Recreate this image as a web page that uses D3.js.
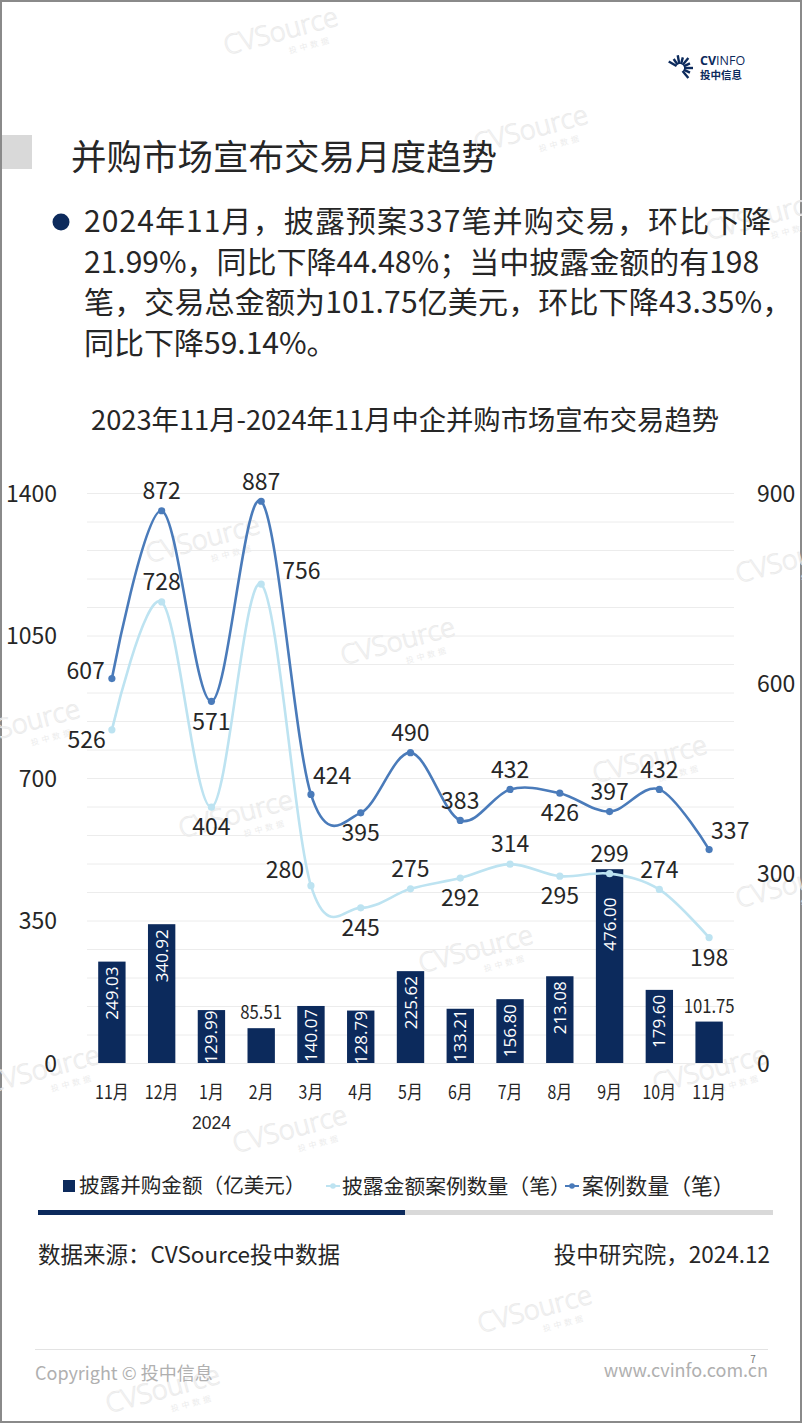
<!DOCTYPE html>
<html><head><meta charset="utf-8">
<script src="https://cdn.jsdelivr.net/npm/d3@7"></script>
<style>
html,body{margin:0;padding:0;background:#fff;}
svg{display:block;font-family:"Noto Sans CJK SC","Noto Sans",sans-serif;}
</style></head>
<body>
<svg id="c" width="802" height="1424"></svg>
<script>
// ---------- data ----------
const monthLabels = ["11月","12月","1月","2月","3月","4月","5月","6月","7月","8月","9月","10月","11月"];
const yearLabels  = ["","","2024","","","","","","","","","",""];
const amount    = [249.03,340.92,129.99,85.51,140.07,128.79,225.62,133.21,156.80,213.08,476.00,179.60,101.75];
const disclosed = [526,728,404,756,280,245,275,292,314,295,299,274,198];
const cases     = [607,872,571,887,424,395,490,383,432,426,397,432,337];
const leftTicks  = [0,350,700,1050,1400];
const rightTicks = [0,300,600,900];
const seriesNames = ["披露并购金额（亿美元）","披露金额案例数量（笔）","案例数量（笔）"];
// label placement keywords (t=top,b=bottom,l=left,lb=left-below,tr=top-right,tl=top-left,r=right)
const casesLabelPos     = ["l","t","b","t","tr","b","t","t","t","b","t","t","tr"];
const disclosedLabelPos = ["lb","t","b","r","tl","b","t","b","t","b","t","t","b"];

const svg = d3.select("#c");
const NAVY = "#0c2a5c", DARK = "#4a7bba", LIGHT = "#bde3f1", TXT = "#262626";

// ---------- page frame ----------
svg.append("rect").attr("x",1).attr("y",1).attr("width",800).attr("height",1421)
  .attr("fill","none").attr("stroke","#8a8a8a").attr("stroke-width",2);

// watermarks (very faint)
const wm = [[283,40],[533,138],[765,225],[205,548],[400,650],[25,732],[238,823],[652,768],[795,568],[478,958],[795,893],[45,1078],[712,1078],[292,1138],[537,1318],[165,1398]];
wm.forEach(([cx,cy])=>{
  const g = svg.append("g").attr("transform",`translate(${cx},${cy}) rotate(-15)`);
  g.append("text").attr("text-anchor","middle").attr("font-family","Open Sans, sans-serif").attr("font-weight",300)
    .attr("font-size",27).attr("fill","none").attr("stroke","#ebebeb").attr("stroke-width",0.9).text("CVSource");
  g.append("text").attr("x",25).attr("y",15).attr("text-anchor","middle").attr("font-size",8)
    .attr("fill","#ececec").attr("letter-spacing",3).text("投中数据");
});

// logo
const logo = svg.append("g").attr("transform","translate(680,64)");
d3.range(9).forEach(i=>{
  const a = (-150 + i*25) * Math.PI/180;
  const r1 = 4, r2 = (i%2? 11: 13);
  logo.append("line").attr("x1",r1*Math.cos(a)).attr("y1",r1*Math.sin(a)+4)
    .attr("x2",r2*Math.cos(a)).attr("y2",r2*Math.sin(a)+4).attr("stroke",NAVY).attr("stroke-width",2.4);
});
svg.append("text").attr("x",700).attr("y",65).attr("font-family","Open Sans, sans-serif")
  .attr("font-size",12.5).attr("fill",NAVY).attr("font-weight",700).text("CV")
  .append("tspan").attr("font-weight",400).text("INFO");
svg.append("text").attr("x",700).attr("y",79).attr("font-size",10.5).attr("fill",NAVY).attr("font-weight",700).text("投中信息");

// title block
svg.append("rect").attr("x",2).attr("y",135).attr("width",30).attr("height",34).attr("fill","#d9d9d9");
svg.append("text").attr("x",71).attr("y",170).attr("font-size",35.5).attr("fill",TXT).text("并购市场宣布交易月度趋势");

// bullet paragraph
svg.append("circle").attr("cx",61).attr("cy",222).attr("r",8.5).attr("fill",NAVY);
const para = ["2024年11月，披露预案337笔并购交易，环比下降",
              "21.99%，同比下降44.48%；当中披露金额的有198",
              "笔，交易总金额为101.75亿美元，环比下降43.35%，",
              "同比下降59.14%。"];
const spacing = [1.1, 0, 0.15, 0];
para.forEach((t,i)=>{
  svg.append("text").attr("x",84).attr("y",232+i*40.5).attr("font-size",30)
    .attr("letter-spacing",spacing[i]).attr("fill",TXT).text(t);
});

// chart title
svg.append("text").attr("x",405).attr("y",430).attr("text-anchor","middle").attr("font-size",27.3)
  .attr("fill",TXT).text("2023年11月-2024年11月中企并购市场宣布交易趋势");

// ---------- chart ----------
const X0 = 87, X1 = 734, Y0 = 1063, Y1 = 493;
const idx = d3.range(monthLabels.length);
const x = d3.scaleBand().domain(idx).range([X0,X1]).paddingInner(0.45).paddingOuter(0.225);
const yL = d3.scaleLinear().domain([0,1400]).range([Y0,Y1]);
const yR = d3.scaleLinear().domain([0,900]).range([Y0,Y1]);
const cx = i => x(i) + x.bandwidth()/2;

// gridlines
svg.append("g").attr("transform",`translate(${X0},0)`)
  .call(d3.axisLeft(yL).tickValues(d3.range(0,1401,70)).tickSize(-(X1-X0)).tickFormat(""))
  .call(g=>g.select(".domain").remove())
  .call(g=>g.selectAll("line").attr("stroke","#ececec").attr("stroke-width",1));

// left axis
svg.append("g").attr("transform",`translate(57,0)`)
  .call(d3.axisLeft(yL).tickValues(leftTicks).tickSize(0).tickPadding(0).tickFormat(d3.format("d")))
  .call(g=>g.select(".domain").remove())
  .call(g=>g.selectAll("text").attr("font-size",23).attr("fill",TXT).attr("font-family","Noto Sans CJK SC").attr("dy","0.35em"));
// right axis
svg.append("g").attr("transform",`translate(757,0)`)
  .call(d3.axisRight(yR).tickValues(rightTicks).tickSize(0).tickPadding(0).tickFormat(d3.format("d")))
  .call(g=>g.select(".domain").remove())
  .call(g=>g.selectAll("text").attr("font-size",23).attr("fill",TXT).attr("font-family","Noto Sans CJK SC").attr("dy","0.35em"));

// x axis
const xa = svg.append("g").attr("transform",`translate(0,${Y0})`)
  .call(d3.axisBottom(x).tickSize(0).tickPadding(0).tickFormat(i=>monthLabels[i]))
  .call(g=>g.select(".domain").remove());
xa.selectAll("text").attr("font-size",19).attr("fill",TXT).attr("font-family","Noto Sans CJK SC")
  .attr("y",0).attr("dy",0).attr("transform","translate(0,36) scale(0.84,1)");
xa.selectAll(".tick").append("text").attr("fill",TXT).attr("font-size",19).attr("text-anchor","middle")
  .attr("transform","translate(0,66) scale(0.92,1)").text(i=>yearLabels[i]);

// bars
svg.append("g").selectAll("rect").data(amount).join("rect")
  .attr("x",(d,i)=>x(i)).attr("width",x.bandwidth())
  .attr("y",d=>yL(d)).attr("height",d=>Y0-yL(d)).attr("fill",NAVY);

// bar labels
amount.forEach((d,i)=>{
  const top = yL(d), h = Y0-top;
  if (h < 48) {
    svg.append("g").attr("transform",`translate(${cx(i)},${top-9})`)
      .append("text").attr("text-anchor","middle").attr("font-size",19).attr("fill",TXT)
      .attr("transform","scale(0.88,1)").text(d.toFixed(2));
  } else {
    const t = svg.append("text").attr("text-anchor","end").attr("font-family","Open Sans, sans-serif")
      .attr("font-size",17).attr("fill","#fff").text(d.toFixed(2));
    const len = t.node().getComputedTextLength();
    let start = top + 5;
    const lp = yR(disclosed[i]);
    if (lp > top) start = Math.max(start, lp + 24);
    if (start + len > Y0 - 1) start = Math.max(top + 0.5, Y0 - 1 - len);
    t.attr("transform",`translate(${cx(i)+6},${start}) rotate(-90)`);
  }
});

// lines
const curve = d3.curveCardinal.tension(0);
function drawSeries(vals,color){
  const line = d3.line().x((d,i)=>cx(i)).y(d=>yR(d)).curve(curve);
  svg.append("path").datum(vals).attr("d",line).attr("fill","none").attr("stroke",color).attr("stroke-width",2.6);
  svg.append("g").selectAll("circle").data(vals).join("circle")
    .attr("cx",(d,i)=>cx(i)).attr("cy",d=>yR(d)).attr("r",3.6).attr("fill",color);
}
drawSeries(disclosed,LIGHT);
drawSeries(cases,DARK);

const offs = {t:[0,-20,"middle"], b:[0,20,"middle"], l:[-7,-8,"end"], lb:[-6,10,"end"],
              tr:[2,-19,"start"], tl:[-7,-16,"end"], r:[21,-13,"start"]};
function drawLabels(vals,pos){
  vals.forEach((d,i)=>{
    const o = offs[pos[i]];
    svg.append("text").attr("x",cx(i)+o[0]).attr("y",yR(d)+o[1]).attr("dy","0.36em")
      .attr("text-anchor",o[2]).attr("font-size",23).attr("fill",TXT).text(d);
  });
}
drawLabels(cases,casesLabelPos);
drawLabels(disclosed,disclosedLabelPos);

// legend
const lg = svg.append("g").attr("transform","translate(0,1186)");
lg.append("rect").attr("x",63).attr("y",-6).attr("width",12).attr("height",12).attr("fill",NAVY);
lg.append("text").attr("x",79).attr("y",0).attr("dy","0.36em").attr("font-size",20.6).attr("fill",TXT).text(seriesNames[0]);
lg.append("line").attr("x1",326).attr("x2",340).attr("y1",0).attr("y2",0).attr("stroke",LIGHT).attr("stroke-width",2);
lg.append("circle").attr("cx",333).attr("cy",0).attr("r",2.8).attr("fill",LIGHT);
lg.append("text").attr("x",342).attr("y",0).attr("dy","0.36em").attr("font-size",20.8).attr("fill",TXT).text(seriesNames[1]);
lg.append("line").attr("x1",565).attr("x2",579).attr("y1",0).attr("y2",0).attr("stroke",DARK).attr("stroke-width",2);
lg.append("circle").attr("cx",572).attr("cy",0).attr("r",2.8).attr("fill",DARK);
lg.append("text").attr("x",582).attr("y",0).attr("dy","0.36em").attr("font-size",21.8).attr("fill",TXT).text(seriesNames[2]);

// divider bar
svg.append("rect").attr("x",38).attr("y",1210).attr("width",735).attr("height",5).attr("fill","#d9d9d9");
svg.append("rect").attr("x",38).attr("y",1210).attr("width",367).attr("height",5).attr("fill",NAVY);

// source
svg.append("text").attr("x",38).attr("y",1255).attr("dy","0.36em").attr("font-size",22.5).attr("fill",TXT).text("数据来源：CVSource投中数据");
svg.append("text").attr("x",770).attr("y",1255).attr("dy","0.36em").attr("text-anchor","end").attr("font-size",22.5).attr("fill",TXT).text("投中研究院，2024.12");

// footer
svg.append("line").attr("x1",35).attr("x2",768).attr("y1",1349.5).attr("y2",1349.5).attr("stroke","#e3e3e3").attr("stroke-width",1);
svg.append("text").attr("x",753).attr("y",1363).attr("text-anchor","middle").attr("font-size",10).attr("fill","#777").text("7");
svg.append("text").attr("x",35).attr("y",1374).attr("dy","0.36em").attr("font-size",18).attr("fill","#b0b0b0").text("Copyright © 投中信息");
svg.append("text").attr("x",768).attr("y",1371).attr("dy","0.36em").attr("text-anchor","end").attr("font-size",18).attr("fill","#b0b0b0").text("www.cvinfo.com.cn");
</script>
</body></html>
